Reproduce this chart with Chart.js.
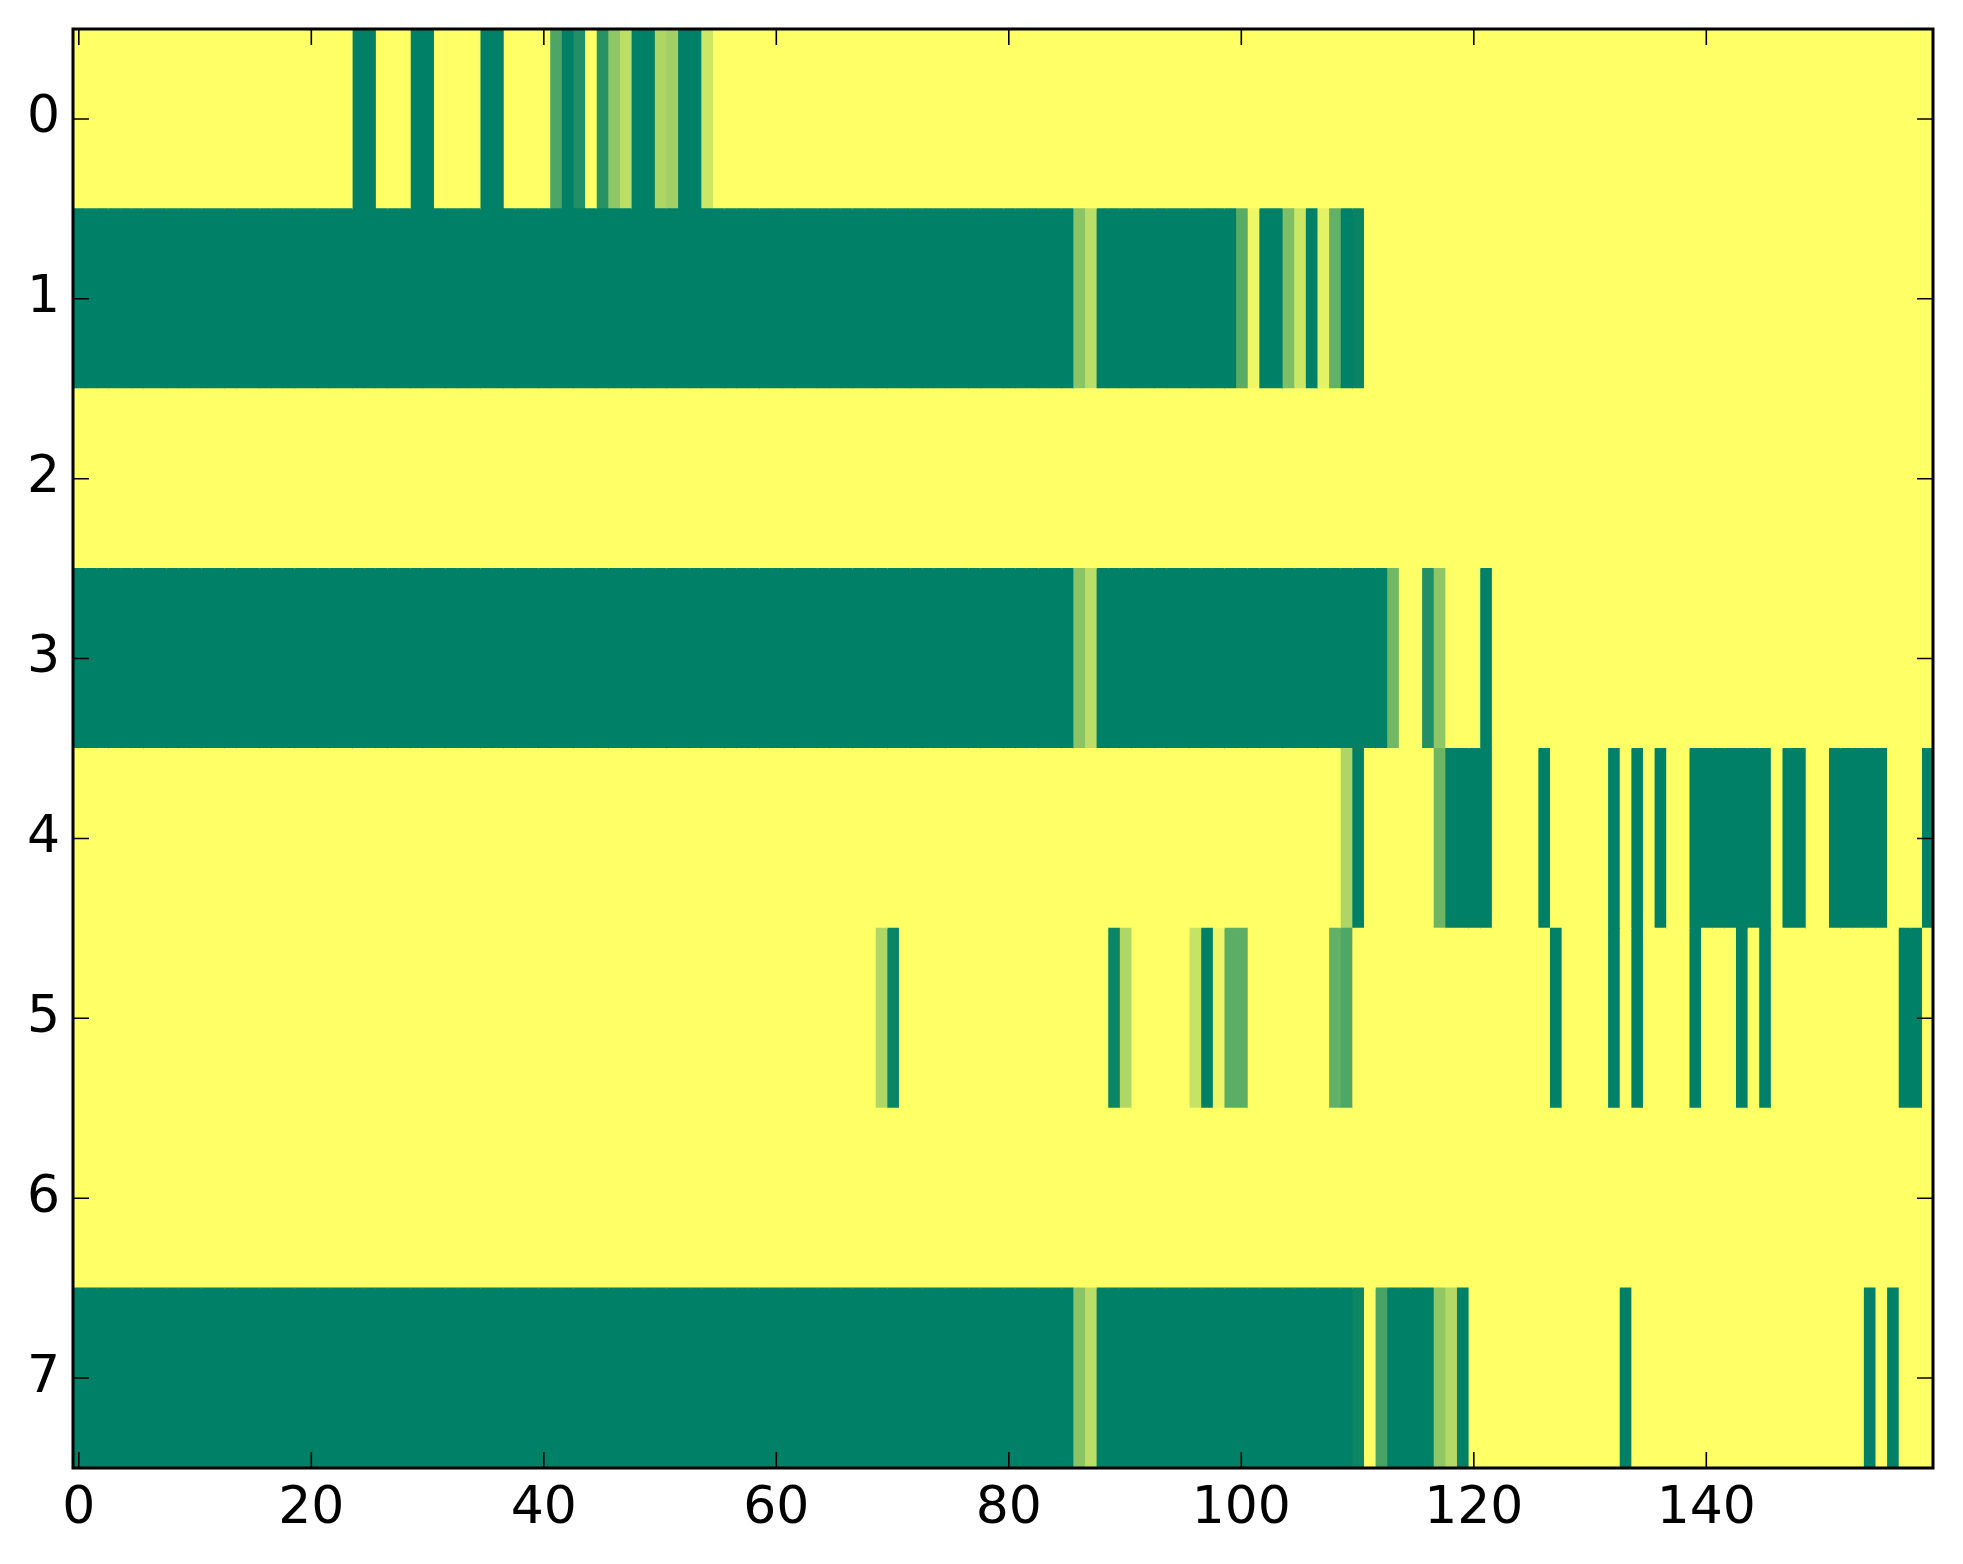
<!DOCTYPE html>
<html><head><meta charset="utf-8">
<script src="https://cdn.jsdelivr.net/npm/chart.js@4.4.1/dist/chart.umd.min.js"></script>
<style>html,body{margin:0;padding:0;background:#fff}canvas{display:block}</style>
</head><body>
<canvas id="c" width="1963" height="1564" style="width:1963px;height:1564px"></canvas>
<script>
const rowLabels = ['0','1','2','3','4','5','6','7'];
const xTicks = [0,20,40,60,80,100,120,140];

const row0 = [
1,1,1,1,1,1,1,1,1,1,1,1,1,1,1,1,1,1,1,1,
1,1,1,1,0,0,1,1,1,0,0,1,1,1,1,0,0,1,1,1,
1,.3,0,.13,1,.15,.56,.74,0,0,.68,.63,0,0,.8,1,1,1,1,1,
1,1,1,1,1,1,1,1,1,1,1,1,1,1,1,1,1,1,1,1,
1,1,1,1,1,1,1,1,1,1,1,1,1,1,1,1,1,1,1,1,
1,1,1,1,1,1,1,1,1,1,1,1,1,1,1,1,1,1,1,1,
1,1,1,1,1,1,1,1,1,1,1,1,1,1,1,1,1,1,1,1,
1,1,1,1,1,1,1,1,1,1,1,1,1,1,1,1,1,1,1,1];
const row1 = [
0,0,0,0,0,0,0,0,0,0,0,0,0,0,0,0,0,0,0,0,
0,0,0,0,0,0,0,0,0,0,0,0,0,0,0,0,0,0,0,0,
0,0,0,0,0,0,0,0,0,0,0,0,0,0,0,0,0,0,0,0,
0,0,0,0,0,0,0,0,0,0,0,0,0,0,0,0,0,0,0,0,
0,0,0,0,0,0,.54,.74,0,0,0,0,0,0,0,0,0,0,0,0,
.35,.94,0,0,.49,.8,0,.9,.39,0,.03,1,1,1,1,1,1,1,1,1,
1,1,1,1,1,1,1,1,1,1,1,1,1,1,1,1,1,1,1,1,
1,1,1,1,1,1,1,1,1,1,1,1,1,1,1,1,1,1,1,1];
const row2 = [
1,1,1,1,1,1,1,1,1,1,1,1,1,1,1,1,1,1,1,1,
1,1,1,1,1,1,1,1,1,1,1,1,1,1,1,1,1,1,1,1,
1,1,1,1,1,1,1,1,1,1,1,1,1,1,1,1,1,1,1,1,
1,1,1,1,1,1,1,1,1,1,1,1,1,1,1,1,1,1,1,1,
1,1,1,1,1,1,1,1,1,1,1,1,1,1,1,1,1,1,1,1,
1,1,1,1,1,1,1,1,1,1,1,1,1,1,1,1,1,1,1,1,
1,1,1,1,1,1,1,1,1,1,1,1,1,1,1,1,1,1,1,1,
1,1,1,1,1,1,1,1,1,1,1,1,1,1,1,1,1,1,1,1];
const row3 = [
0,0,0,0,0,0,0,0,0,0,0,0,0,0,0,0,0,0,0,0,
0,0,0,0,0,0,0,0,0,0,0,0,0,0,0,0,0,0,0,0,
0,0,0,0,0,0,0,0,0,0,0,0,0,0,0,0,0,0,0,0,
0,0,0,0,0,0,0,0,0,0,0,0,0,0,0,0,0,0,0,0,
0,0,0,0,0,0,.54,.74,0,0,0,0,0,0,0,0,0,0,0,0,
0,0,0,0,0,0,0,0,0,0,0,0,0,.44,1,1,.13,.56,1,1,
1,0,1,1,1,1,1,1,1,1,1,1,1,1,1,1,1,1,1,1,
1,1,1,1,1,1,1,1,1,1,1,1,1,1,1,1,1,1,1,1];
const row4 = [
1,1,1,1,1,1,1,1,1,1,1,1,1,1,1,1,1,1,1,1,
1,1,1,1,1,1,1,1,1,1,1,1,1,1,1,1,1,1,1,1,
1,1,1,1,1,1,1,1,1,1,1,1,1,1,1,1,1,1,1,1,
1,1,1,1,1,1,1,1,1,1,1,1,1,1,1,1,1,1,1,1,
1,1,1,1,1,1,1,1,1,1,1,1,1,1,1,1,1,1,1,1,
1,1,1,1,1,1,1,1,1,.68,0,1,1,1,1,1,1,.43,0,0,
0,0,1,1,1,1,0,1,1,1,1,1,0,1,0,1,0,1,1,0,
0,0,0,0,0,0,1,0,0,1,1,0,0,0,0,0,1,1,1,0];
const row5 = [
1,1,1,1,1,1,1,1,1,1,1,1,1,1,1,1,1,1,1,1,
1,1,1,1,1,1,1,1,1,1,1,1,1,1,1,1,1,1,1,1,
1,1,1,1,1,1,1,1,1,1,1,1,1,1,1,1,1,1,1,1,
1,1,1,1,1,1,1,1,1,.69,.04,1,1,1,1,1,1,1,1,1,
1,1,1,1,1,1,1,1,1,.04,.69,1,1,1,1,1,.78,0,.94,.36,
.36,1,1,1,1,1,1,1,.39,.31,1,1,1,1,1,1,1,1,1,1,
1,1,1,1,1,1,1,0,1,1,1,1,0,1,0,1,1,1,1,0,
1,1,1,0,1,0,1,1,1,1,1,1,1,1,1,1,1,0,0,1];
const row6 = [
1,1,1,1,1,1,1,1,1,1,1,1,1,1,1,1,1,1,1,1,
1,1,1,1,1,1,1,1,1,1,1,1,1,1,1,1,1,1,1,1,
1,1,1,1,1,1,1,1,1,1,1,1,1,1,1,1,1,1,1,1,
1,1,1,1,1,1,1,1,1,1,1,1,1,1,1,1,1,1,1,1,
1,1,1,1,1,1,1,1,1,1,1,1,1,1,1,1,1,1,1,1,
1,1,1,1,1,1,1,1,1,1,1,1,1,1,1,1,1,1,1,1,
1,1,1,1,1,1,1,1,1,1,1,1,1,1,1,1,1,1,1,1,
1,1,1,1,1,1,1,1,1,1,1,1,1,1,1,1,1,1,1,1];
const row7 = [
0,0,0,0,0,0,0,0,0,0,0,0,0,0,0,0,0,0,0,0,
0,0,0,0,0,0,0,0,0,0,0,0,0,0,0,0,0,0,0,0,
0,0,0,0,0,0,0,0,0,0,0,0,0,0,0,0,0,0,0,0,
0,0,0,0,0,0,0,0,0,0,0,0,0,0,0,0,0,0,0,0,
0,0,0,0,0,0,.54,.74,0,0,0,0,0,0,0,0,0,0,0,0,
0,0,0,0,0,0,0,0,0,0,.05,1,.28,0,0,0,0,.57,.7,0,
1,1,1,1,1,1,1,1,1,1,1,1,1,0,1,1,1,1,1,1,
1,1,1,1,1,1,1,1,1,1,1,1,1,1,0,1,0,1,1,1];

const rows = [row0,row1,row2,row3,row4,row5,row6,row7];
const nCols = row0.length;

// matplotlib "summer" colormap
function summer(v){
  const r = Math.round(255*v), g = Math.round(255*(0.5+0.5*v)), b = 102;
  return 'rgb('+r+','+g+','+b+')';
}

const datasets = [];
for (let c = 0; c < nCols; c++) {
  datasets.push({
    data: rows.map(() => [c - 0.5, c + 0.5]),
    backgroundColor: rows.map(r => summer(r[c])),
    borderWidth: 0,
    inflateAmount: 0.6,
    barPercentage: 1,
    categoryPercentage: 1,
    grouped: false
  });
}

const frame = {
  id: 'frame',
  afterDraw(chart) {
    const {ctx, chartArea: a, scales: {x, y}} = chart;
    ctx.save();
    ctx.strokeStyle = '#000';
    ctx.lineWidth = 1.6;
    const L = 16;
    ctx.beginPath();
    xTicks.forEach(v => {
      const px = x.getPixelForValue(v);
      ctx.moveTo(px, a.bottom); ctx.lineTo(px, a.bottom - L);
      ctx.moveTo(px, a.top); ctx.lineTo(px, a.top + L);
    });
    rowLabels.forEach((l, i) => {
      const py = y.getPixelForValue(i);
      ctx.moveTo(a.left, py); ctx.lineTo(a.left + L, py);
      ctx.moveTo(a.right, py); ctx.lineTo(a.right - L, py);
    });
    ctx.stroke();
    ctx.lineWidth = 3;
    ctx.strokeRect(a.left, a.top, a.right - a.left, a.bottom - a.top);
    ctx.restore();
  }
};

const font = {family: 'DejaVu Sans', size: 52};
new Chart(document.getElementById('c').getContext('2d'), {
  type: 'bar',
  data: {labels: rowLabels, datasets},
  options: {
    indexAxis: 'y',
    responsive: false,
    devicePixelRatio: 1,
    animation: false,
    plugins: {legend: {display: false}, tooltip: {enabled: false}},
    layout: {padding: {top: 29, right: 30, left: 0, bottom: 0}},
    scales: {
      x: {
        type: 'linear', min: -0.5, max: 159.5,
        grid: {display: false, drawTicks: false},
        border: {display: false},
        afterBuildTicks: s => { s.ticks = xTicks.map(v => ({value: v})); },
        afterFit: s => { s.height = 96; s.paddingLeft = 0; s.paddingRight = 0; },
        ticks: {font, color: '#000', padding: 10, maxRotation: 0, autoSkip: false}
      },
      y: {
        type: 'category', offset: true,
        grid: {display: false, drawTicks: false},
        border: {display: false},
        afterFit: s => { s.width = 73; s.paddingTop = 0; s.paddingBottom = 0; },
        ticks: {font, color: '#000', padding: 13}
      }
    }
  },
  plugins: [frame]
});
</script>
</body></html>
